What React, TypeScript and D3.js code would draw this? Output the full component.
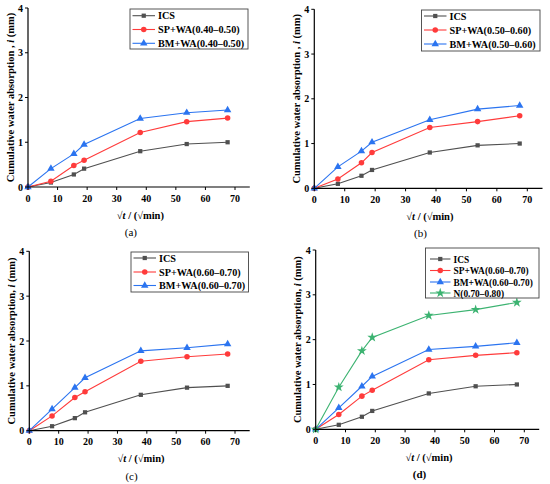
import * as d3 from "d3";

// sqrt(t) sampling points, same for every panel
const SQRT_T = [0, 7.75, 15.5, 18.97, 37.95, 53.67, 67.5];

const ICS = [0, 0.1, 0.28, 0.41, 0.8, 0.96, 1.0];
const SP_A = [0, 0.13, 0.48, 0.6, 1.22, 1.46, 1.54];
const BM_A = [0, 0.41, 0.74, 0.95, 1.53, 1.66, 1.72];
const SP_B = [0, 0.21, 0.57, 0.8, 1.36, 1.49, 1.62];
const BM_B = [0, 0.48, 0.83, 1.03, 1.53, 1.77, 1.85];
const SP_C = [0, 0.33, 0.74, 0.87, 1.55, 1.65, 1.71];
const BM_C = [0, 0.48, 0.96, 1.18, 1.78, 1.85, 1.93];
const N_D = [0, 0.94, 1.75, 2.05, 2.54, 2.67, 2.83];

const X_TICKS = [0, 10, 20, 30, 40, 50, 60, 70];
const Y_TICKS = [0, 1, 2, 3, 4];

type Series = { name: string; values: number[]; color: string; marker: d3.SymbolType; size: number };

const ics: Series = { name: "ICS", values: ICS, color: "#505050", marker: d3.symbolSquare, size: 18 };
const sp = (name: string, v: number[]): Series => ({ name, values: v, color: "#ff3b3b", marker: d3.symbolCircle, size: 24 });
const bm = (name: string, v: number[]): Series => ({ name, values: v, color: "#2b74f0", marker: d3.symbolTriangle, size: 24 });

type PanelDef = {
    caption: string;
    captionBold?: boolean;
    left: number;
    top: number;
    bottom: number;
    x70: number;
    yLabel: string;
    series: Series[];
    legend: { x: number; y: number; w: number; h: number; rows: number[]; font: number; pad: number };
};

const FONT = "'Liberation Serif', 'Times New Roman', serif";

const PANELS: PanelDef[] = [
    {
        caption: "(a)",
        left: 28, top: 8, bottom: 187, x70: 235,
        yLabel: "Cumulative water absorption , ",
        series: [ics, sp("SP+WA(0.40–0.50)", SP_A), bm("BM+WA(0.40–0.50)", BM_A)],
        legend: { x: 130, y: 9, w: 118, h: 40, rows: [15.7, 29.5, 43.3], font: 10.2, pad: 2.5 },
    },
    {
        caption: "(b)",
        left: 314.3, top: 9.3, bottom: 188.3, x70: 527.3,
        yLabel: "Cumulative water absorption , ",
        series: [ics, sp("SP+WA(0.50–0.60)", SP_B), bm("BM+WA(0.50–0.60)", BM_B)],
        legend: { x: 421.5, y: 10, w: 118.5, h: 41, rows: [16, 30, 44], font: 10.2, pad: 2.5 },
    },
    {
        caption: "(c)",
        left: 29.3, top: 251.3, bottom: 430.7, x70: 235,
        yLabel: "Cumulative water absorption, ",
        series: [ics, sp("SP+WA(0.60–0.70)", SP_C), bm("BM+WA(0.60–0.70)", BM_C)],
        legend: { x: 131, y: 252, w: 117.5, h: 40, rows: [258, 272, 285.5], font: 10.2, pad: 2.5 },
    },
    {
        caption: "(d)",
        captionBold: true,
        left: 315.7, top: 250, bottom: 429.3, x70: 524.3,
        yLabel: "Cumulative water absorption, ",
        series: [
            ics,
            sp("SP+WA(0.60–0.70)", SP_C),
            bm("BM+WA(0.60–0.70)", BM_C),
            { name: "N(0.70–0.80)", values: N_D, color: "#3cb371", marker: d3.symbolStar, size: 30 },
        ],
        legend: { x: 425.5, y: 248, w: 113.5, h: 50, rows: [259, 270.5, 282, 293], font: 9.4, pad: 4.5 },
    },
];

function Panel({ p }: { p: PanelDef }) {
    const right = p.left + ((p.x70 - p.left) * 75) / 70;
    const x = d3.scaleLinear().domain([0, 75]).range([p.left, right]);
    const y = d3.scaleLinear().domain([0, 4]).range([p.bottom, p.top]);
    const line = d3
        .line<number>()
        .x((_, i) => x(SQRT_T[i]))
        .y((d) => y(d));
    const midX = (p.left + right) / 2;
    const lg = p.legend;

    return (
        <g fontFamily={FONT} fontWeight="bold">
            {p.series.map((s) => (
                <g key={s.name}>
                    <path d={line(s.values) ?? ""} fill="none" stroke={s.color} strokeWidth={1.1} />
                    {s.values.map((v, i) => (
                        <path
                            key={i}
                            transform={`translate(${x(SQRT_T[i])},${y(v)})`}
                            d={d3.symbol(s.marker, s.size)() ?? ""}
                            fill={s.color}
                        />
                    ))}
                </g>
            ))}

            {/* axes */}
            <line x1={p.left} x2={p.left} y1={p.top} y2={p.bottom} stroke="#000" strokeWidth={1.2} />
            <line x1={p.left} x2={right} y1={p.bottom} y2={p.bottom} stroke="#000" strokeWidth={1.2} />
            {X_TICKS.map((t) => (
                <g key={t}>
                    <line x1={x(t)} x2={x(t)} y1={p.bottom} y2={p.bottom + 3} stroke="#000" strokeWidth={1} />
                    <text x={x(t)} y={p.bottom + 14.5} fontSize={10} textAnchor="middle">
                        {t}
                    </text>
                </g>
            ))}
            {Y_TICKS.map((t) => (
                <g key={t}>
                    <line x1={p.left - 3} x2={p.left} y1={y(t)} y2={y(t)} stroke="#000" strokeWidth={1} />
                    <text x={p.left - 5} y={y(t) + 3.5} fontSize={10} textAnchor="end">
                        {t}
                    </text>
                </g>
            ))}

            <text
                transform={`translate(${p.left - 14.5},${(p.top + p.bottom) / 2}) rotate(-90)`}
                fontSize={10.5}
                textAnchor="middle"
            >
                {p.yLabel}
                <tspan fontStyle="italic">i</tspan> (mm)
            </text>
            <text x={midX + 1.5} y={p.bottom + 31.5} fontSize={10.5} textAnchor="middle">
                √<tspan fontStyle="italic">t</tspan> / (√min)
            </text>
            <text
                x={midX - 8}
                y={p.bottom + 49}
                fontSize={11}
                textAnchor="middle"
                fontWeight={p.captionBold ? "bold" : "normal"}
            >
                {p.caption}
            </text>

            {/* legend */}
            <rect x={lg.x} y={lg.y} width={lg.w} height={lg.h} fill="#fff" stroke="#444" strokeWidth={0.9} />
            {p.series.map((s, i) => (
                <g key={s.name}>
                    <line x1={lg.x + lg.pad} x2={lg.x + 25} y1={lg.rows[i]} y2={lg.rows[i]} stroke={s.color} strokeWidth={1.1} />
                    <path
                        transform={`translate(${lg.x + (lg.pad + 25) / 2},${lg.rows[i]})`}
                        d={d3.symbol(s.marker, s.size)() ?? ""}
                        fill={s.color}
                    />
                    <text x={lg.x + 28} y={lg.rows[i] + 3.5} fontSize={lg.font}>
                        {s.name}
                    </text>
                </g>
            ))}
        </g>
    );
}

export default function App() {
    return (
        <svg width={550} height={484} style={{ position: "absolute", left: 0, top: 0, background: "#fff" }}>
            <rect width={550} height={484} fill="#fff" />
            {PANELS.map((p) => (
                <Panel key={p.caption} p={p} />
            ))}
        </svg>
    );
}
